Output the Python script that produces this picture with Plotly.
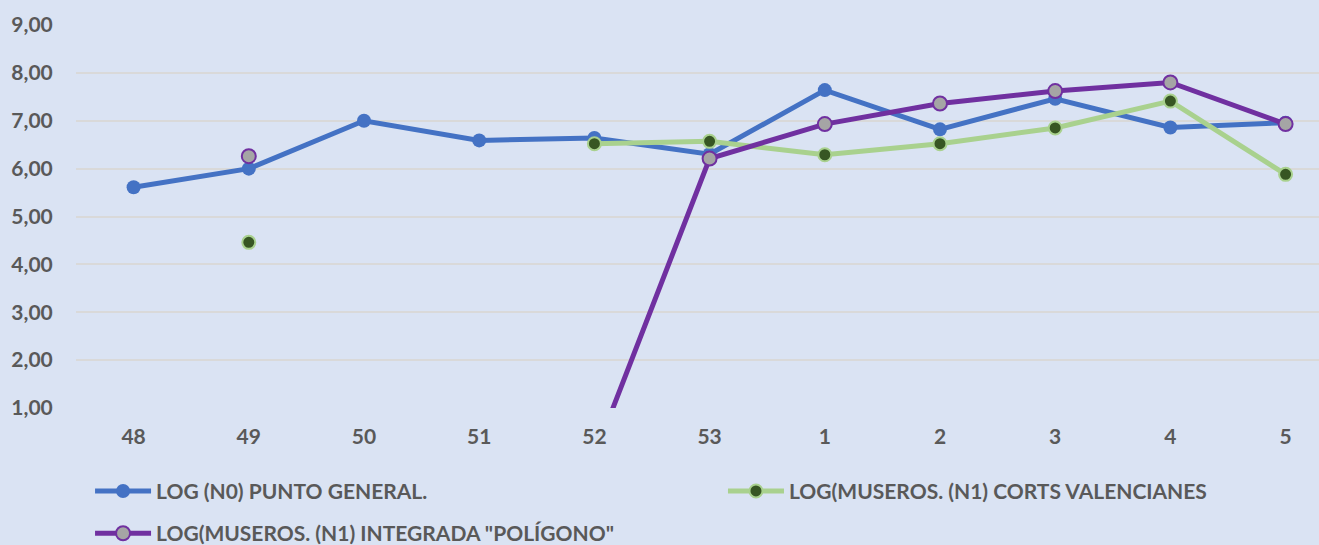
import plotly.graph_objects as go

categories = ["48", "49", "50", "51", "52", "53", "1", "2", "3", "4", "5"]
punto_general = [5.61, 6.00, 7.00, 6.59, 6.64, 6.30, 7.64, 6.82, 7.46, 6.86, 6.96]
corts_valencianes = [None, 4.46, None, None, 6.52, 6.57, 6.29, 6.52, 6.85, 7.41, 5.88]
integrada_poligono = [None, 6.26, None, None, 0.0, 6.21, 6.93, 7.36, 7.62, 7.80, 6.93]

BG = "#DAE3F3"
TXT = "#595959"
FONT = "Lato"
FS = 21
LFS = 21

fig = go.Figure()
fig.add_trace(go.Scatter(
    x=categories, y=punto_general, mode="lines+markers",
    name="LOG (N0) PUNTO GENERAL.",
    legend="legend", legendgroup="a",
    line=dict(color="#4472C4", width=5),
    marker=dict(size=14, color="#4472C4", line=dict(width=0)),
))
fig.add_trace(go.Scatter(
    x=categories, y=corts_valencianes, mode="lines+markers",
    name="LOG(MUSEROS. (N1) CORTS VALENCIANES",
    legend="legend2", legendgroup="c",
    line=dict(color="#A9D18E", width=5),
    marker=dict(size=13, color="#375623", line=dict(width=2, color="#A9D18E")),
))
fig.add_trace(go.Scatter(
    x=categories, y=integrada_poligono, mode="lines+markers",
    name="LOG(MUSEROS. (N1) INTEGRADA \"POLÍGONO\"",
    legend="legend", legendgroup="b",
    line=dict(color="#7030A0", width=5),
    marker=dict(size=14, color="#A5A5A5", line=dict(width=2, color="#7030A0")),
))

legend_common = dict(
    orientation="v", xanchor="left", yanchor="top",
    itemwidth=56, bgcolor="rgba(0,0,0,0)",
    font=dict(family=FONT, size=LFS, color=TXT, weight="bold"),
)

fig.update_layout(
    width=1319, height=545,
    paper_bgcolor=BG, plot_bgcolor=BG,
    margin=dict(l=76, r=0, t=25, b=137, autoexpand=False),
    separators=",.",
    font=dict(family=FONT, color=TXT),
    xaxis=dict(
        type="category", range=[-0.5, 10.29],
        showgrid=False, zeroline=False, showline=False,
        ticks="outside", ticklen=10, tickcolor="rgba(0,0,0,0)",
        tickfont=dict(family=FONT, size=FS, color=TXT, weight="bold"),
    ),
    yaxis=dict(
        range=[1, 9], dtick=1, tickformat=".2f",
        showgrid=True, gridcolor="#D9D9D9", gridwidth=2,
        zeroline=False, showline=False,
        ticks="outside", ticklen=18, tickcolor="rgba(0,0,0,0)",
        tickfont=dict(family=FONT, size=FS, color=TXT, weight="bold"),
    ),
    showlegend=True,
    legend=dict(x=0.0113, y=-0.164, tracegroupgap=12, **legend_common),
    legend2=dict(x=0.5205, y=-0.164, **legend_common),
)

fig.write_html(
    "out.html",
    config={"displayModeBar": False},
    post_script="document.body.style.margin='0';document.body.style.background='#DAE3F3';",
)
